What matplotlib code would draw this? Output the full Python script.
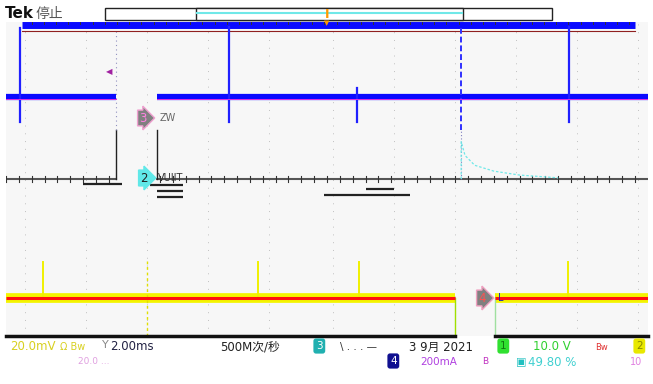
import matplotlib.pyplot as plt
from matplotlib.patches import Rectangle

plt.rcParams['font.family'] = ['DejaVu Sans', 'Noto Sans CJK SC']

W, H = 653, 384

# screen levels and events, in graticule divisions (10 x 8)
ch3_level = 2.09
ch1_level = -3.03
ch3_gap = [-3.29, -2.65]
ch1_gap = [1.99, 2.62]
ch3_spike_x = [-4.78, -1.53, 0.47, 3.77]
ch3_spike_top = [3.85, 3.87, 2.32, 3.87]
ch3_spike_bottom = [1.45, 1.45, 1.45, 1.45]
trigger_x = 2.09
ch1_spike_x = [-4.42, -1.07, 0.50, 3.75]
ch1_spike_top = [-2.11, -2.11, -2.11, -2.11]
ch2_x = [2.09, 2.09, 2.15, 2.3, 2.6, 3.0, 3.6]
ch2_y = [0.0, 0.95, 0.6, 0.35, 0.2, 0.1, 0.03]
top_band_level = 3.93
grid_x = [-4.7, -3.75, -2.8, -1.85, -0.9, 0.1, 1.05, 2.0, 2.95, 3.9, 4.85]
# leftover readout bars under the centre line: x0, x1, y
readout_x0 = [-3.8, -2.75, -2.65, -2.65, 0.6, -0.05]
readout_x1 = [-3.2, -2.25, -2.25, -2.25, 1.05, 1.3]
readout_y = [-0.12, -0.15, -0.3, -0.45, -0.25, -0.42]


def fx(x):
    return x / W


def fy(y):
    return 1 - y / H


fig = plt.figure(figsize=(W / 100, H / 100), dpi=100)
fig.patch.set_facecolor('white')

ax = fig.add_axes([fx(6), fy(336), 642 / W, 314 / H])
ax.set_xlim(-5, 5)
ax.set_ylim(-4, 4)
ax.axis('off')
ax.add_patch(Rectangle((0, 0), 1, 1, transform=ax.transAxes, fc='#f7f7f7', ec='none', zorder=0))

# dotted graticule
for gx in grid_x:
    ax.plot([gx, gx], [-4, 4], color='#c0c0c0', lw=0.7, ls=(0, (1, 7)), zorder=1)

# centre axis with ticks
ax.plot([-5, ch3_gap[0]], [0, 0], color='#555555', lw=1.5, zorder=2)
ax.plot([ch3_gap[1], 5], [0, 0], color='#555555', lw=1.5, zorder=2)
tk = -5.0
while tk <= 5:
    if not (ch3_gap[0] < tk < ch3_gap[1]):
        ax.plot([tk, tk], [-0.08, 0.08], color='#333333', lw=0.8, zorder=2)
    tk += 0.2
for x0, x1, yy in zip(readout_x0, readout_x1, readout_y):
    ax.plot([x0, x1], [yy, yy], color='#222222', lw=1.6, solid_capstyle='butt', zorder=2)

# edges of the hidden strips
for gx in ch3_gap:
    ax.plot([gx, gx], [0, 1.25], color='#222222', lw=1, zorder=2)
ax.plot([ch3_gap[0], ch3_gap[0]], [1.25, 3.8], color='#9090c0', lw=0.8, ls=(0, (1, 3)), zorder=2)

# top band (channel 4 clipped at top of screen)
ax.plot([-4.75, 4.8], [top_band_level, top_band_level], color='#0a0aff', lw=5, solid_capstyle='butt', zorder=3)
ax.plot([-4.75, 4.8], [3.78, 3.78], color='#902020', lw=0.8, zorder=3)
tk = -4.6
while tk <= 4.8:
    ax.plot([tk, tk], [3.95, 4.02], color='#333333', lw=0.7, zorder=4)
    tk += 0.19

# channel 3
for seg in ([-5, ch3_gap[0]], [ch3_gap[1], 5]):
    ax.plot(seg, [ch3_level, ch3_level], color='#0a0aff', lw=4.5, solid_capstyle='butt', zorder=3)
    ax.plot(seg, [ch3_level - 0.05, ch3_level - 0.05], color='#e030e0', lw=0.7, zorder=4)
for sx, st, sb in zip(ch3_spike_x, ch3_spike_top, ch3_spike_bottom):
    ax.plot([sx, sx], [sb, st], color='#2020ff', lw=1.6, zorder=3)
ax.plot([trigger_x, trigger_x], [1.25, 3.85], color='#3030ff', lw=1.4, ls=(0, (3, 1.5)), zorder=3)
ax.plot([trigger_x, trigger_x], [0, 1.25], color='#8080c0', lw=0.8, ls=(0, (1, 2)), zorder=3)

# channel 2
ax.plot(ch2_x, ch2_y, color='#70e8e8', lw=0.9, ls=(0, (2, 1.5)), zorder=3)

# channel 1
for seg in ([-5, ch1_gap[0]], [ch1_gap[1], 5]):
    ax.plot(seg, [ch1_level, ch1_level], color='#f4f400', lw=7, solid_capstyle='butt', zorder=3)
    ax.plot(seg, [ch1_level, ch1_level], color='#ff1010', lw=2.2, solid_capstyle='butt', zorder=4)
for sx, st in zip(ch1_spike_x, ch1_spike_top):
    ax.plot([sx, sx], [ch1_level, st], color='#f0f000', lw=1.4, zorder=3)
ax.plot([-2.8, -2.8], [-4, -2.1], color='#e0e000', lw=1, ls=(0, (2, 2)), zorder=3)
ax.plot([ch1_gap[0], ch1_gap[0]], [-4, ch1_level], color='#a0e000', lw=1, zorder=3)
ax.plot([ch1_gap[1], ch1_gap[1]], [-4, ch1_level], color='#a0e0a0', lw=1, zorder=3)

# bottom frame line
ax.plot([-5, ch1_gap[0]], [-4, -4], color='#111111', lw=2.5, clip_on=False, zorder=5)
ax.plot([ch1_gap[1], 5], [-4, -4], color='#111111', lw=2.5, clip_on=False, zorder=5)

# channel markers
fig.text(fx(139), fy(118), '3', fontsize=8.5, color='#ff80e0', va='center', ha='left', zorder=10,
         bbox=dict(boxstyle='rarrow,pad=0.12', fc='#808080', ec='#f0a0d0', lw=1))
fig.text(fx(160), fy(118), 'ZW', fontsize=7, color='#666666', va='center')
fig.text(fx(140), fy(178), '2', fontsize=8.5, color='#202020', va='center', ha='left', zorder=10,
         bbox=dict(boxstyle='rarrow,pad=0.12', fc='#60e8e8', ec='#60e8e8', lw=1))
fig.text(fx(158), fy(178), 'VUIIT', fontsize=7, color='#333333', va='center')
fig.text(fx(478), fy(298), '4', fontsize=8.5, color='#ff5050', va='center', ha='left', zorder=10,
         bbox=dict(boxstyle='rarrow,pad=0.12', fc='#808080', ec='#f0a0c0', lw=1))
fig.text(fx(498), fy(298), 'L', fontsize=7, color='#2020c0', va='center')
fig.text(fx(106), fy(72), '◀', fontsize=6, color='#a020a0', va='center')

# header
fig.text(fx(5), fy(14), 'Tek', fontsize=11, fontweight='bold', color='#111111', va='center')
fig.text(fx(36), fy(14), '停止', fontsize=10, color='#555555', va='center',
         family=['Noto Sans CJK SC', 'DejaVu Sans'])
fig.patches.append(Rectangle((fx(105), fy(20)), fx(447), 12 / H, transform=fig.transFigure,
                             fc='white', ec='#222222', lw=1))
fig.patches.append(Rectangle((fx(196), fy(20)), fx(267), 12 / H, transform=fig.transFigure,
                             fc='white', ec='#222222', lw=1))
fig.lines.append(plt.Line2D([fx(197), fx(462)], [fy(13), fy(13)], transform=fig.transFigure,
                            color='#70e8e8', lw=1.5))
fig.text(fx(327), fy(14), 'I', fontsize=9, fontweight='bold', color='#ff9a00', ha='center', va='center')
fig.text(fx(327), fy(23), '▼', fontsize=5, color='#ff9a00', ha='center', va='center')

# status bar
cjk = ['DejaVu Sans', 'Noto Sans CJK SC']
row1, row2 = 347, 362
fig.text(fx(10), fy(row1), '20.0mV', fontsize=8.5, color='#d8d020', va='center')
fig.text(fx(60), fy(row1), 'Ω Bw', fontsize=7, color='#d8d020', va='center')
fig.text(fx(102), fy(row1 - 2), 'Y', fontsize=8, color='#888888', va='center')
fig.text(fx(110), fy(row1), '2.00ms', fontsize=8.5, color='#222244', va='center')
fig.text(fx(220), fy(row1), '500M次/秒', fontsize=8.5, color='#222222', va='center', family=cjk)
fig.text(fx(316), fy(row1 - 1), '3', fontsize=7.5, color='white', va='center',
         bbox=dict(boxstyle='round,pad=0.25', fc='#20b0b0', ec='none'))
fig.text(fx(340), fy(row1), '\\ . . . —', fontsize=7.5, color='#333333', va='center')
fig.text(fx(409), fy(row1), '3 9月 2021', fontsize=8.5, color='#222222', va='center', family=cjk)
fig.text(fx(500), fy(row1 - 1), '1', fontsize=7.5, color='#117711', va='center',
         bbox=dict(boxstyle='round,pad=0.25', fc='#30e030', ec='none'))
fig.text(fx(533), fy(row1), '10.0 V', fontsize=8.5, color='#30d030', va='center')
fig.text(fx(595), fy(row1), 'Bw', fontsize=6, color='#e03030', va='center')
fig.text(fx(636), fy(row1 - 1), '2', fontsize=7.5, color='#888800', va='center',
         bbox=dict(boxstyle='round,pad=0.25', fc='#e8e800', ec='none'))
fig.text(fx(78), fy(row2), '20.0 ...', fontsize=6.5, color='#e0a0e0', va='center')
fig.text(fx(390), fy(row2 - 1), '4', fontsize=7.5, color='white', va='center',
         bbox=dict(boxstyle='round,pad=0.25', fc='#101090', ec='none'))
fig.text(fx(420), fy(row2), '200mA', fontsize=7.5, color='#b040e0', va='center')
fig.text(fx(482), fy(row2), 'B', fontsize=6.5, color='#c030c0', va='center')
fig.text(fx(516), fy(row2), '▣', fontsize=8, color='#20c0c0', va='center')
fig.text(fx(528), fy(row2), '49.80 %', fontsize=8.5, color='#40d0d0', va='center')
fig.text(fx(630), fy(row2), '10', fontsize=7, color='#e080e0', va='center')

fig.savefig('out.png', dpi=100)
